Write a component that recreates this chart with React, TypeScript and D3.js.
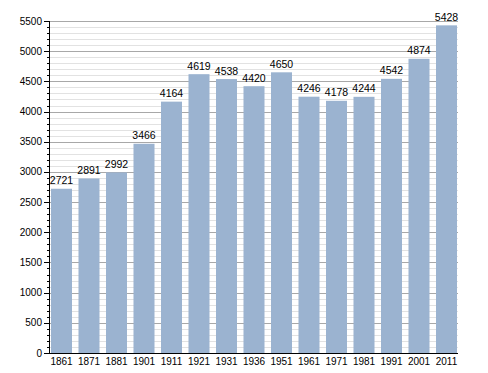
import React from "react";
import * as d3 from "d3";

const years = ["1861", "1871", "1881", "1901", "1911", "1921", "1931", "1936", "1951", "1961", "1971", "1981", "1991", "2001", "2011"];
const population = [2721, 2891, 2992, 3466, 4164, 4619, 4538, 4420, 4650, 4246, 4178, 4244, 4542, 4874, 5428];
const yTicks = [0, 500, 1000, 1500, 2000, 2500, 3000, 3500, 4000, 4500, 5000, 5500];

const W = 488;
const H = 373;
const AXIS_X = 50;
const RIGHT = 458;

export default function App() {
  const x = d3.scaleBand<string>()
    .domain(years)
    .range([47.75, 460.25])
    .paddingInner(0.236)
    .paddingOuter(0.118);

  const y = d3.scaleLinear()
    .domain([0, 5500])
    .range([353, 21]);

  const minor = d3.range(0, 5501, 100).filter((v) => v % 500 !== 0);
  const font = "'Liberation Sans', Arial, sans-serif";
  const py = (v: number) => Math.round(y(v)) + 0.5;

  return (
    <svg width={W} height={H} style={{ position: "absolute", left: 0, top: 0, background: "#fff" }}>
      {/* grid */}
      {minor.map((v) => (
        <line key={"m" + v} x1={AXIS_X} x2={RIGHT} y1={py(v)} y2={py(v)} stroke="#e2e2e2" />
      ))}
      {yTicks.map((v) => (
        <line key={"g" + v} x1={AXIS_X} x2={RIGHT} y1={py(v)} y2={py(v)} stroke="#a8a8a8" />
      ))}

      {/* bars */}
      {years.map((yr, i) => (
        <rect key={yr} x={x(yr)} y={y(population[i])} width={x.bandwidth()} height={y(0) - y(population[i])} fill="#9bb3d0" />
      ))}

      {/* value labels */}
      {years.map((yr, i) => (
        <text key={"v" + yr} x={(x(yr) as number) + x.bandwidth() / 2} y={y(population[i]) - 4.5}
          textAnchor="middle" fontFamily={font} fontSize={10.5} fill="#000">
          {population[i]}
        </text>
      ))}

      {/* y axis */}
      {minor.map((v) => (
        <line key={"mt" + v} x1={AXIS_X - 3} x2={AXIS_X} y1={py(v)} y2={py(v)} stroke="#000" />
      ))}
      {yTicks.map((v) => (
        <g key={"t" + v}>
          <line x1={AXIS_X - 6} x2={AXIS_X} y1={py(v)} y2={py(v)} stroke="#000" />
          <text x={42} y={y(v) + 3.5} textAnchor="end" fontFamily={font} fontSize={10} fill="#000">{v}</text>
        </g>
      ))}
      <line x1={AXIS_X - 0.5} x2={AXIS_X - 0.5} y1={y(5500)} y2={y(0) + 0.5} stroke="#000" />
      <line x1={AXIS_X - 1} x2={RIGHT} y1={py(0)} y2={py(0)} stroke="#000" />

      {/* x labels */}
      {years.map((yr) => (
        <text key={"x" + yr} x={(x(yr) as number) + x.bandwidth() / 2} y={364.5}
          textAnchor="middle" fontFamily={font} fontSize={10} fill="#000">
          {yr}
        </text>
      ))}
    </svg>
  );
}
